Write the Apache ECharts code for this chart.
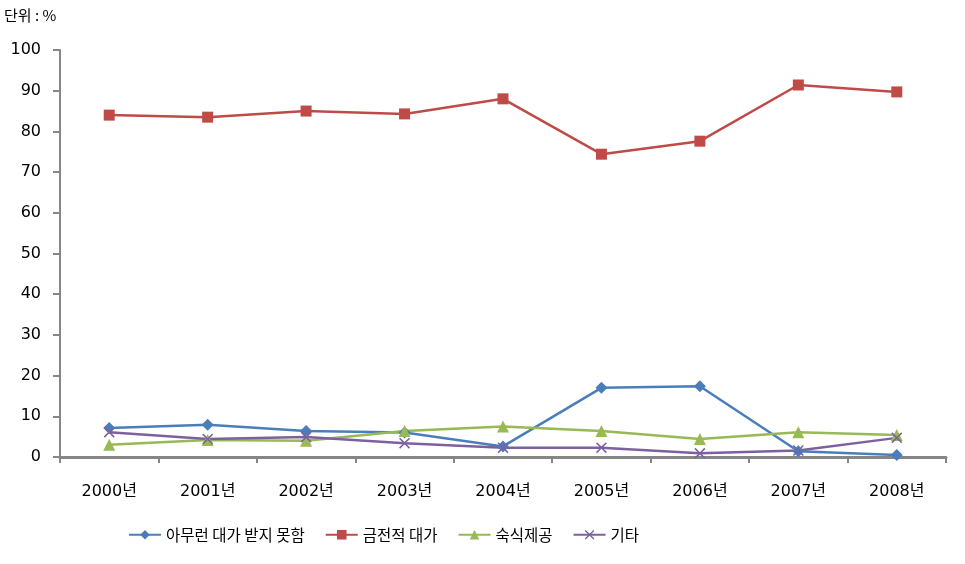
<!DOCTYPE html>
<html>
<head>
<meta charset="utf-8">
<script src="https://cdn.jsdelivr.net/npm/echarts@6/dist/echarts.min.js"></script>
<style>
  html, body { margin: 0; padding: 0; background: #fff; }
  #main { width: 965px; height: 564px; }
</style>
</head>
<body>
<div id="main"></div>
<script>
// 연도
var years = ['2000년', '2001년', '2002년', '2003년', '2004년', '2005년', '2006년', '2007년', '2008년'];
// 시리즈 값 (단위: %)
var noPay = [7.1, 7.9, 6.4, 6.0, 2.6, 17.0, 17.4, 1.4, 0.5];
var moneyPay = [84.0, 83.5, 85.0, 84.3, 88.0, 74.4, 77.6, 91.4, 89.7];
var mealPay = [3.0, 4.2, 4.0, 6.4, 7.5, 6.4, 4.4, 6.1, 5.4];
var etc = [6.1, 4.4, 4.9, 3.4, 2.3, 2.3, 0.9, 1.6, 4.7];

var font = 'Noto Sans CJK KR';
var numFont = '"DejaVu Sans", "Noto Sans CJK KR"';
var crossPath = 'path://M0,1L1,0L5,4L9,0L10,1L6,5L10,9L9,10L5,6L1,10L0,9L4,5Z';

var myChart = echarts.init(document.getElementById('main'));
var option = {
  animation: false,
  textStyle: { fontFamily: font },
  graphic: [
    {
      type: 'text',
      left: 4,
      top: 8,
      style: { text: '단위 : %', fontSize: 15, fontFamily: font, fill: '#000' }
    }
  ],
  legend: {
    left: 123,
    top: 522,
    itemWidth: 32,
    itemHeight: 12,
    itemGap: 20,
    textStyle: { fontSize: 15.5, color: '#000', fontFamily: font },
    data: ['아무런 대가 받지 못함', '금전적 대가', '숙식제공', '기타']
  },
  grid: {
    left: 60,
    right: 19,
    top: 50,
    bottom: 107
  },
  xAxis: {
    type: 'category',
    boundaryGap: true,
    data: years,
    axisLine: { lineStyle: { color: '#868686', width: 3 } },
    axisTick: { show: true, length: 6, lineStyle: { color: '#868686', width: 2 } },
    axisLabel: { color: '#000', fontSize: 16, margin: 27, fontFamily: numFont }
  },
  yAxis: {
    type: 'value',
    min: 0,
    max: 100,
    interval: 10,
    axisLine: { show: true, lineStyle: { color: '#868686', width: 2 } },
    axisTick: { show: true, length: 7, lineStyle: { color: '#868686', width: 2 } },
    splitLine: { show: false },
    axisLabel: { color: '#000', fontSize: 16, margin: 19, fontFamily: numFont }
  },
  series: [
    {
      name: '아무런 대가 받지 못함',
      type: 'line',
      data: noPay,
      symbol: 'diamond',
      symbolSize: 12,
      color: '#4a7ebb',
      lineStyle: { width: 2.5, color: '#4a7ebb' }
    },
    {
      name: '금전적 대가',
      type: 'line',
      data: moneyPay,
      symbol: 'rect',
      symbolSize: 11,
      color: '#be4b48',
      lineStyle: { width: 2.5, color: '#be4b48' }
    },
    {
      name: '숙식제공',
      type: 'line',
      data: mealPay,
      symbol: 'triangle',
      symbolSize: 12,
      color: '#98b954',
      lineStyle: { width: 2.5, color: '#98b954' }
    },
    {
      name: '기타',
      type: 'line',
      data: etc,
      symbol: crossPath,
      symbolSize: 11,
      color: '#7d60a0',
      lineStyle: { width: 2.5, color: '#7d60a0' }
    }
  ]
};
myChart.setOption(option);
</script>
</body>
</html>
